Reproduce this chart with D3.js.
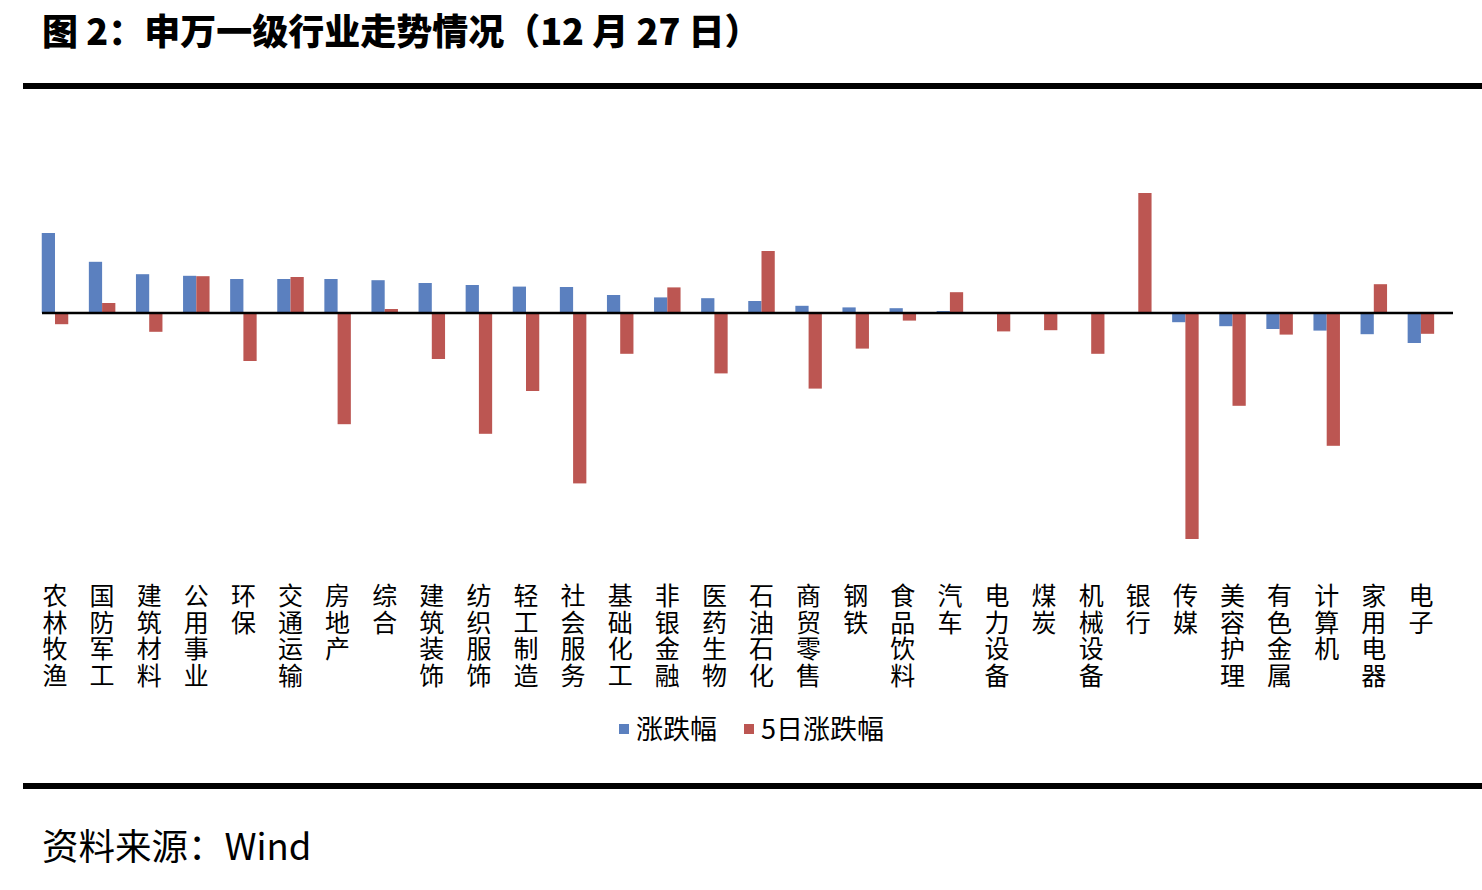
<!DOCTYPE html>
<html>
<head>
<meta charset="utf-8">
<script src="https://cdn.jsdelivr.net/npm/d3@7"></script>
<style>
  html, body { margin: 0; padding: 0; background: #fff; }
  svg { display: block; }
</style>
</head>
<body>
<svg id="chart" width="1482" height="890"></svg>
<script>
// ---- data (percent) ----
const categories = ["农林牧渔","国防军工","建筑材料","公用事业","环保","交通运输","房地产","综合","建筑装饰","纺织服饰","轻工制造","社会服务","基础化工","非银金融","医药生物","石油石化","商贸零售","钢铁","食品饮料","汽车","电力设备","煤炭","机械设备","银行","传媒","美容护理","有色金属","计算机","家用电器","电子"];
const dailyChange = [2.00,1.28,0.97,0.93,0.85,0.85,0.85,0.82,0.75,0.70,0.66,0.65,0.45,0.39,0.37,0.30,0.18,0.14,0.12,0.05,0.01,0.01,0.00,-0.02,-0.23,-0.33,-0.40,-0.44,-0.53,-0.75];
const fiveDayChange = [-0.28,0.25,-0.47,0.92,-1.20,0.90,-2.78,0.10,-1.15,-3.02,-1.95,-4.26,-1.02,0.64,-1.51,1.55,-1.89,-0.89,-0.19,0.52,-0.46,-0.43,-1.02,3.00,-5.65,-2.32,-0.54,-3.32,0.72,-0.52];
const seriesNames = ["涨跌幅","5日涨跌幅"];
const titleText = "图 2：申万一级行业走势情况（12 月 27 日）";
const sourceText = "资料来源：Wind";

const colors = ["#5B80BF", "#BC5652"];
const svg = d3.select("#chart");
svg.append("rect").attr("width",1482).attr("height",890).attr("fill","#fff");

// title
svg.append("text").attr("x",42).attr("y",45)
  .attr("font-family","'Noto Sans CJK SC', sans-serif").attr("font-weight",900)
  .attr("font-size",36).attr("fill","#000").text(titleText);

// top and bottom rules
svg.append("rect").attr("x",23).attr("y",83).attr("width",1459).attr("height",6).attr("fill","#000");
svg.append("rect").attr("x",23).attr("y",783).attr("width",1459).attr("height",6).attr("fill","#000");

// source
svg.append("text").attr("x",42).attr("y",860)
  .attr("font-family","'Noto Sans CJK SC', sans-serif")
  .attr("font-size",36.5).attr("fill","#000").text(sourceText);

// scales
const x0 = d3.scaleBand().domain(categories).range([31.45, 31.45 + 47.1*30]).padding(0);
const x1 = d3.scaleBand().domain([0,1]).range([10.3, 36.8]).padding(0);
const y = d3.scaleLinear().domain([-6, 4]).range([553, 153]);

const rows = categories.map((c,i) => ({cat:c, vals:[dailyChange[i], fiveDayChange[i]]}));

const g = svg.append("g");
const groups = g.selectAll("g.cat").data(rows).join("g")
  .attr("transform", d => `translate(${x0(d.cat)},0)`);
groups.selectAll("rect").data(d => d.vals.map((v,k)=>({v,k}))).join("rect")
  .attr("x", d => x1(d.k))
  .attr("width", x1.bandwidth())
  .attr("y", d => Math.min(y(0), y(d.v)))
  .attr("height", d => Math.abs(y(d.v) - y(0)))
  .attr("fill", d => colors[d.k]);

// zero axis line
svg.append("line").attr("x1",42).attr("x2",1453).attr("y1",y(0)).attr("y2",y(0))
  .attr("stroke","#000").attr("stroke-width",2.5);

// vertical category labels (vertical writing mode, one text per category)
const labels = svg.append("g")
  .attr("font-family","'Noto Sans CJK SC', sans-serif")
  .attr("font-size",25).attr("fill","#000");
labels.selectAll("text").data(categories).join("text")
  .attr("x", d => x0(d) + x0.bandwidth()/2)
  .attr("y", 583)
  .style("writing-mode","vertical-rl")
  .style("text-orientation","upright")
  .style("letter-spacing","1.5px")
  .text(d => d);

// legend
const legend = svg.append("g")
  .attr("font-family","'Noto Sans CJK SC', sans-serif").attr("font-size",27);
const legendItems = [{x:619, name:seriesNames[0], c:colors[0]}, {x:744, name:seriesNames[1], c:colors[1]}];
legendItems.forEach(it => {
  legend.append("rect").attr("x",it.x).attr("y",724).attr("width",10).attr("height",10).attr("fill",it.c);
  legend.append("text").attr("x",it.x+17).attr("y",739).attr("fill","#000").text(it.name);
});
</script>
</body>
</html>
